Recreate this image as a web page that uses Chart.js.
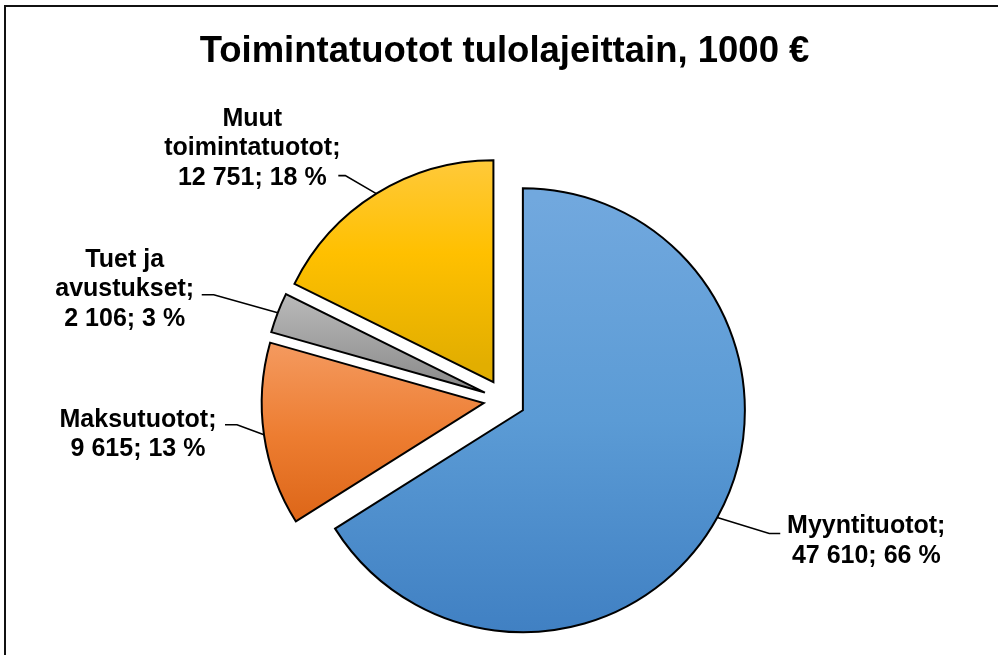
<!DOCTYPE html>
<html lang="fi">
<head>
<meta charset="utf-8">
<title>Toimintatuotot tulolajeittain</title>
<script src="https://cdn.jsdelivr.net/npm/chart.js@4.4.1/dist/chart.umd.min.js"></script>
<style>
    html, body { margin: 0; padding: 0; background: #fff; }
    #chart_box { position: relative; width: 998px; height: 655px; }
</style>
</head>
<body>
<div id="chart_box"><canvas id="income_canvas"></canvas></div>
<script>
const chart_title = "Toimintatuotot tulolajeittain, 1000 €";
const categories = ["Myyntituotot", "Maksutuotot", "Tuet ja avustukset", "Muut toimintatuotot"];
// the way the names wrap inside the data labels
const category_lines = [["Myyntituotot"], ["Maksutuotot"], ["Tuet ja", "avustukset"], ["Muut", "toimintatuotot"]];
const values = [47610, 9615, 2106, 12751];

// light top, base, dark bottom
const slice_colors = [
    ["#71a8de", "#5b9bd5", "#3f7fc2"],
    ["#f4995e", "#ed7d31", "#dc6517"],
    ["#bdbdbd", "#a5a5a5", "#8c8c8c"],
    ["#ffcb45", "#ffc000", "#e2ae00"]
];

const explode = 21;
// leader elbow relative to the slice edge, label text relative to the end of the leader
const label_layout = [
    {elbow: [52, 16], tail: 11, text_x: 86, text_y: 0},
    {elbow: [-27, -10], tail: -12, text_x: -87, text_y: 2},
    {elbow: [-64, -18], tail: -12, text_x: -77, text_y: -28},
    {elbow: [-31, -18], tail: -7, text_x: -86, text_y: -50}
];

Chart.defaults.font.family = "'Liberation Sans', Arial, sans-serif";

document.addEventListener("DOMContentLoaded", ()=>{
    initialize_page();
});

function format_number(v){
    return v.toString().replace(/\B(?=(\d{3})+(?!\d))/g, " ");
}

function label_lines(index){
    let total = values.reduce((a, b) => a + b, 0);
    let lines = category_lines[index].slice();
    lines[lines.length - 1] += ";";
    lines.push(format_number(values[index]) + "; " + Math.round(values[index] / total * 100) + " %");
    return lines;
}

function slice_center(arc){
    let mid = (arc.startAngle + arc.endAngle) / 2;
    return [arc.x + Math.cos(mid) * explode, arc.y + Math.sin(mid) * explode, mid];
}

function slice_box(arc){
    let [cx, cy] = slice_center(arc);
    let top = cy, bottom = cy;
    let angles = [arc.startAngle, arc.endAngle];
    [-Math.PI / 2, Math.PI / 2, Math.PI * 1.5].forEach(a => {
        if(a > arc.startAngle && a < arc.endAngle) angles.push(a);
    });
    angles.forEach(a => {
        let y = cy + Math.sin(a) * arc.outerRadius;
        top = Math.min(top, y);
        bottom = Math.max(bottom, y);
    });
    return {top: top, bottom: bottom};
}

function slice_fill(context){
    let colors = slice_colors[context.dataIndex];
    let arc = context.element;
    if(!arc || arc.x === undefined || !arc.outerRadius) return colors[1];
    let box = slice_box(arc);
    let grad = context.chart.ctx.createLinearGradient(0, box.top, 0, box.bottom);
    grad.addColorStop(0, colors[0]);
    grad.addColorStop(0.5, colors[1]);
    grad.addColorStop(1, colors[2]);
    return grad;
}

const frame_plugin = {
    id: "frame",
    beforeDraw(chart){
        let ctx = chart.ctx;
        ctx.save();
        ctx.fillStyle = "#fff";
        ctx.fillRect(0, 0, chart.width, chart.height);
        ctx.strokeStyle = "#111";
        ctx.lineWidth = 2;
        ctx.strokeRect(5, 6, chart.width + 40, chart.height + 40);
        ctx.restore();
    }
};

// pull every slice out from the middle
const explode_plugin = {
    id: "explode",
    beforeDatasetDraw(chart, args){
        let ctx = chart.ctx;
        args.meta.data.forEach(arc => {
            let mid = (arc.startAngle + arc.endAngle) / 2;
            ctx.save();
            ctx.translate(Math.cos(mid) * explode, Math.sin(mid) * explode);
            arc.draw(ctx);
            ctx.restore();
        });
        return false;
    }
};

const label_plugin = {
    id: "slice_labels",
    afterDatasetsDraw(chart){
        let ctx = chart.ctx;
        let meta = chart.getDatasetMeta(0);
        ctx.save();
        ctx.font = "bold 25px 'Liberation Sans', Arial, sans-serif";
        ctx.fillStyle = "#000";
        ctx.strokeStyle = "#000";
        ctx.lineWidth = 1.6;
        ctx.textAlign = "center";
        ctx.textBaseline = "alphabetic";
        meta.data.forEach((arc, i) => {
            let [cx, cy, mid] = slice_center(arc);
            let px = cx + Math.cos(mid) * arc.outerRadius;
            let py = cy + Math.sin(mid) * arc.outerRadius;
            let lay = label_layout[i];
            let ex = px + lay.elbow[0], ey = py + lay.elbow[1];
            let hx = ex + lay.tail;
            ctx.beginPath();
            ctx.moveTo(px, py);
            ctx.lineTo(ex, ey);
            ctx.lineTo(hx, ey);
            ctx.stroke();
            label_lines(i).forEach((line, k) => {
                ctx.fillText(line, hx + lay.text_x, ey + lay.text_y + k * 29.5);
            });
        });
        ctx.restore();
    }
};

function initialize_page(){
    let canvas = document.getElementById("income_canvas");
    let chart = new Chart(canvas, {
        type: "pie",
        data: {
            labels: categories,
            datasets: [{
                data: values,
                backgroundColor: slice_fill,
                borderColor: "#000",
                borderWidth: 2,
                borderJoinStyle: "miter"
            }]
        },
        options: {
            responsive: true,
            maintainAspectRatio: false,
            animation: false,
            devicePixelRatio: 1,
            events: [],
            radius: 222,
            layout: {padding: {left: 11, right: 0, top: 0, bottom: 0}},
            plugins: {
                legend: {display: false},
                tooltip: {enabled: false},
                title: {
                    display: true,
                    text: chart_title,
                    color: "#000",
                    font: {size: 36.5, weight: "bold"},
                    padding: {top: 30, bottom: 71.4}
                }
            }
        },
        plugins: [frame_plugin, explode_plugin, label_plugin]
    });
    chart.update();
}
</script>
</body>
</html>
